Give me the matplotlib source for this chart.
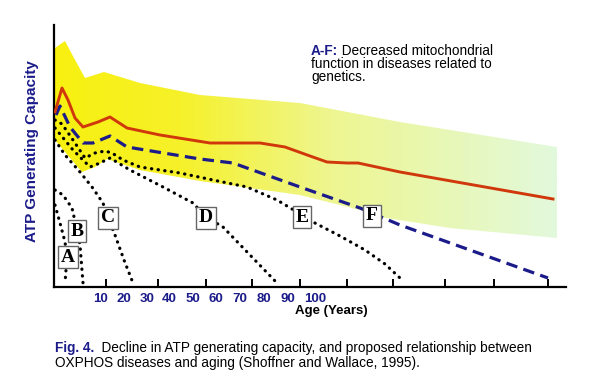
import matplotlib
matplotlib.use("Agg")
import matplotlib.pyplot as plt
import numpy as np
from matplotlib.colors import LinearSegmentedColormap
from matplotlib.patches import Polygon

plt.rcParams["font.family"] = ["Liberation Sans", "DejaVu Sans"]

NAVY = "#1b1b8a"
RED = "#d0380c"

# normal range band (yellow), schematic units
band_top_x = [1, 11, 20, 31, 50, 86, 146, 246, 346, 503]
band_top_y = [239, 246, 229, 209, 215, 204, 192, 184, 165, 140]
band_low_x = [1, 16, 28, 41, 53, 86, 146, 246, 306, 326, 396, 503]
band_low_y = [147, 129, 115, 120, 128, 117, 106, 92, 77, 70, 59, 49]

# normal aging (red)
red_x = [1, 8, 14, 21, 29, 44, 56, 73, 106, 156, 206, 231, 256, 273, 293, 304, 346, 499]
red_y = [175, 199, 187, 169, 160, 165, 170, 159, 152, 144, 144, 140, 131, 125, 124, 124, 115, 88]

# F curve (blue dashed)
blue_x = [2, 6, 16, 29, 39, 56, 73, 146, 179, 246, 306, 346, 494]
blue_y = [172, 181, 160, 144, 144, 151, 140, 128, 124, 100, 79, 62, 9]

# A-E curves (dotted)
dotted = {
    "E": ([1, 8, 19, 31, 41, 51, 58, 69, 86, 126, 159, 193, 223, 248, 259, 286, 311, 331, 346],
          [167, 163, 147, 129, 134, 136, 134, 127, 120, 114, 107, 100, 87, 72, 65, 51, 37, 23, 9]),
    "D": ([1, 19, 36, 46, 56, 76, 109, 139, 152, 169, 196, 223],
          [159, 137, 120, 124, 129, 117, 100, 84, 70, 60, 32, 4]),
    "C": ([1, 11, 26, 38, 49, 54, 61, 70, 79],
          [147, 132, 115, 100, 84, 69, 52, 27, 4]),
    "B": ([1, 9, 18, 23, 26, 29],
          [97, 92, 79, 57, 42, 4]),
    "A": ([1, 6, 11, 13, 11],
          [82, 64, 45, 30, 4]),
}

box_labels = ["A", "B", "C", "D", "E", "F"]
box_x = [14, 23, 54, 152, 248, 318]
box_y = [30, 56, 69, 69, 70, 71]

tick_pos = [52, 104, 152, 198, 246, 293, 339, 391, 440, 494]
age_labels = ["10", "20", "30", "40", "50", "60", "70", "80", "90", "100"]
age_label_x = [46, 70, 93, 115, 139, 162, 186, 210, 234, 261]

note_lines = ["function in diseases related to", "genetics."]
caption_lines = ["Decline in ATP generating capacity, and proposed relationship between",
                 "OXPHOS diseases and aging (Shoffner and Wallace, 1995)."]

fig = plt.figure(figsize=(6, 3.92), dpi=100)
ax = fig.add_axes([54 / 600, 105 / 392, 512 / 600, 262 / 392])
ax.set_xlim(0, 512)
ax.set_ylim(0, 262)

# yellow band with left-to-right fade
band = Polygon(np.column_stack([band_top_x + band_low_x[::-1], band_top_y + band_low_y[::-1]]),
               closed=True, fc="none", ec="none")
ax.add_patch(band)
cmap = LinearSegmentedColormap.from_list(
    "band", [(0.0, "#f8f010"), (0.25, "#f6f12a"), (0.55, "#eef690"), (1.0, "#e2f9dc")])
im = ax.imshow(np.linspace(0, 1, 256).reshape(1, -1), cmap=cmap, aspect="auto",
               extent=(min(band_top_x), max(band_top_x), 0, 262), zorder=1)
im.set_clip_path(band)

for name, (xs, ys) in dotted.items():
    ax.plot(xs, ys, color="black", lw=2.3, linestyle=(0, (0.1, 2.0)),
            dash_capstyle="round", zorder=2)

ax.plot(blue_x, blue_y, color=NAVY, lw=2.3, linestyle=(0, (3.6, 2.0)), zorder=3)
ax.plot(red_x, red_y, color=RED, lw=2.1, zorder=4)

for lbl, bx, by in zip(box_labels, box_x, box_y):
    ax.text(bx, by, lbl, ha="center", va="center", fontsize=14, fontweight="bold",
            family="Liberation Serif", zorder=6,
            bbox=dict(boxstyle="square,pad=0.15", fc="white", ec="#666666", lw=1))

for side in ["top", "right"]:
    ax.spines[side].set_visible(False)
for side in ["left", "bottom"]:
    ax.spines[side].set_linewidth(1.6)
ax.set_yticks([])
ax.set_xticks(tick_pos)
ax.set_xticklabels([])
ax.tick_params(axis="x", direction="in", length=6, width=1.4)

for lbl, lx in zip(age_labels, age_label_x):
    ax.annotate(lbl, xy=(lx, 0), xycoords=("data", "axes fraction"), xytext=(0, -4),
                textcoords="offset points", ha="center", va="top",
                color=NAVY, fontsize=9.5, fontweight="bold")
ax.annotate("Age (Years)", xy=(277, 0), xycoords=("data", "axes fraction"), xytext=(0, -13),
            textcoords="offset points", ha="center", va="top",
            color="black", fontsize=9.5, fontweight="bold")

ax.text(-0.043, 0.52, "ATP Generating Capacity", transform=ax.transAxes, rotation=90,
        ha="center", va="center", color=NAVY, fontsize=11, fontweight="bold")

# note, top right
t = fig.text(311 / 600, 1 - 55 / 392, "A-F:", color=NAVY, fontsize=9.8,
             fontweight="bold", va="baseline")
ax.annotate(" Decreased mitochondrial", xy=(1, 0), xycoords=t, va="bottom",
            fontsize=9.8, annotation_clip=False)
for i, line in enumerate(note_lines):
    fig.text(311 / 600, 1 - (68 + 13 * i) / 392, line, fontsize=9.8, va="baseline")

# caption
c = fig.text(55 / 600, 1 - 352 / 392, "Fig. 4.", color=NAVY, fontsize=9.8,
             fontweight="bold", va="baseline")
ax.annotate("  " + caption_lines[0], xy=(1, 0), xycoords=c, va="bottom",
            fontsize=9.8, annotation_clip=False)
fig.text(55 / 600, 1 - 367 / 392, caption_lines[1], fontsize=9.8, va="baseline")

fig.savefig("out.png", dpi=100)
